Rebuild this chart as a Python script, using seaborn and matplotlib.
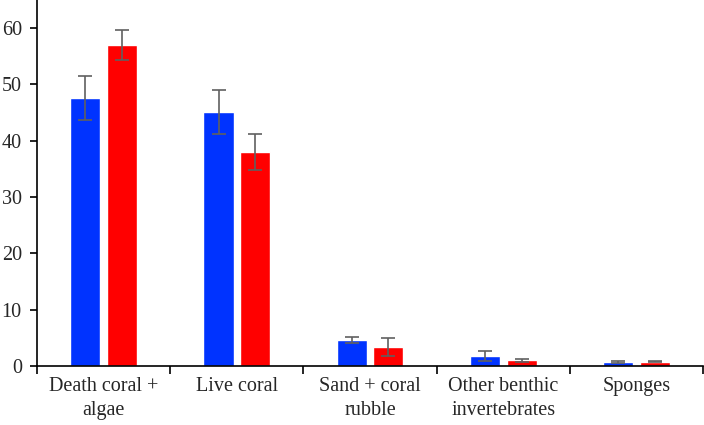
import matplotlib
matplotlib.use("Agg")
import matplotlib.pyplot as plt
import seaborn as sns
import pandas as pd
import numpy as np

categories = ["Death coral +\nalgae", "Live coral", "Sand + coral\nrubble",
              "Other benthic\ninvertebrates", "Sponges"]
series_names = ["Group A", "Group B"]
values_a = [47.6, 45.1, 4.6, 1.8, 0.7]
err_a = [3.9, 3.9, 0.6, 0.85, 0.12]
values_b = [57.0, 38.0, 3.4, 1.0, 0.8]
err_b = [2.7, 3.2, 1.6, 0.3, 0.15]
yticks = [0, 10, 20, 30, 40, 50, 60]

df = pd.DataFrame({
    "cat": categories * 2,
    "grp": [series_names[0]] * 5 + [series_names[1]] * 5,
    "val": values_a + values_b,
    "err": err_a + err_b,
})

sns.set_style("white")
plt.rcParams['font.family'] = ['Liberation Serif', 'DejaVu Serif']

fig = plt.figure(figsize=(7.04, 4.25), dpi=100)
ax = fig.add_axes([0.0526, 0.1388, 0.9460, 0.8612])

sns.barplot(data=df, x="cat", y="val", hue="grp", order=categories,
            hue_order=series_names, palette=["#0033ff", "#ff0000"],
            width=0.55, gap=0.18, errorbar=None, legend=False, ax=ax,
            saturation=1)

# error bars positioned via bar patches
bars = [p for p in ax.patches]
errs = err_a + err_b
for p, e in zip(bars, errs):
    cx = p.get_x() + p.get_width() / 2
    ax.errorbar(cx, p.get_height(), yerr=e, color="#606060", capsize=5,
                elinewidth=1.2, capthick=1.2, fmt="none")

ax.set_xlim(-0.5, 4.5)
ax.set_ylim(0, 65)
ax.set_yticks(yticks)
ax.set_xlabel("")
ax.set_ylabel("")
for s in ["top", "right"]:
    ax.spines[s].set_visible(False)
for s in ["left", "bottom"]:
    ax.spines[s].set_color("black")
    ax.spines[s].set_linewidth(1.2)

ax.set_xticks(np.arange(len(categories)))
ax.set_xticklabels(categories, fontsize=14.5, linespacing=1.35)
ax.tick_params(axis="x", which="major", length=0, pad=8)
ax.set_xticks(np.arange(-0.5, len(categories) + 0.5, 1), minor=True)
ax.tick_params(axis="x", which="minor", length=6, width=1.2, color="black",
               direction="out", bottom=True)
ax.tick_params(axis="y", length=5, width=1.2, color="black", direction="out",
               left=True, labelsize=14.5, pad=6)

fig.savefig("out.png", dpi=100)
